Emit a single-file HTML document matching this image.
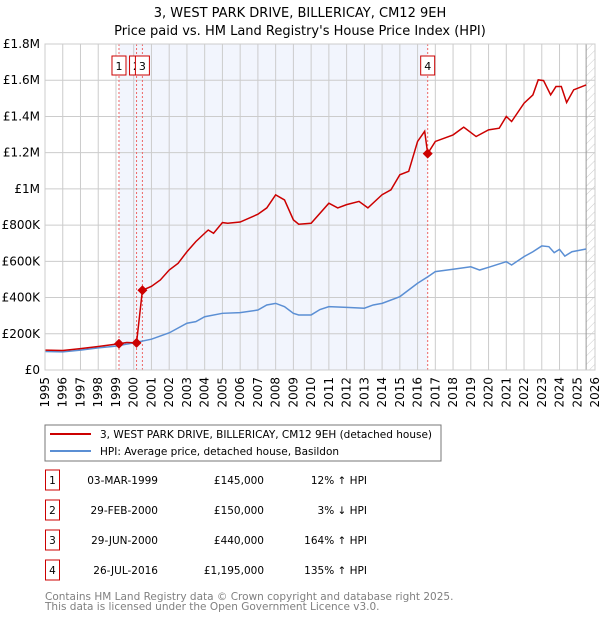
<!DOCTYPE html>
<html><head><meta charset="utf-8"><style>
body{margin:0;background:#fff;font-family:"Liberation Sans","DejaVu Sans",sans-serif;}
svg text{font-family:"DejaVu Sans","Liberation Sans",sans-serif;}
</style></head><body>
<svg id="c" width="600" height="620" xmlns="http://www.w3.org/2000/svg">
<defs><pattern id="hatch" width="6" height="6" patternUnits="userSpaceOnUse" patternTransform="rotate(45)"><line x1="0" y1="0" x2="0" y2="6" stroke="#ccc" stroke-width="1"/></pattern></defs>
<text x="300" y="17" text-anchor="middle" font-size="13">3, WEST PARK DRIVE, BILLERICAY, CM12 9EH</text>
<text x="300" y="35" text-anchor="middle" font-size="13">Price paid vs. HM Land Registry's House Price Index (HPI)</text>
<g id="plot"></g>
<rect x="45" y="425" width="396" height="36" fill="#fff" stroke="#777"/>
<line x1="50" y1="434" x2="91" y2="434" stroke="#cc0000" stroke-width="2"/>
<text x="100" y="438" font-size="10.5">3, WEST PARK DRIVE, BILLERICAY, CM12 9EH (detached house)</text>
<line x1="50" y1="451" x2="91" y2="451" stroke="#5b8fd4" stroke-width="2"/>
<text x="100" y="455" font-size="10.5">HPI: Average price, detached house, Basildon</text>
<g id="table" font-size="10.5"></g>
<text x="45" y="600" font-size="10.5" fill="#808080">Contains HM Land Registry data © Crown copyright and database right 2025.</text>
<text x="45" y="610" font-size="10.5" fill="#808080">This data is licensed under the Open Government Licence v3.0.</text>
</svg>
<script>
const hpiYears=[1995,1996,1997,1998,1999,2000,2001,2002,2003,2003.5,2004,2005,2006,2007,2007.5,2008,2008.5,2009,2009.3,2010,2010.5,2011,2012,2013,2013.5,2014,2015,2016,2016.6,2017,2018,2019,2019.5,2020,2021,2021.3,2022,2022.5,2023,2023.4,2023.7,2024,2024.3,2024.7,2025.5];
const hpiValues=[102,100,110,122,132,150,170,205,258,267,294,313,317,331,359,368,350,313,304,304,334,350,346,341,359,368,405,479,516,543,556,570,552,567,598,580,626,653,685,681,648,666,629,653,668];
const redYears=[1995,1996,1997,1998,1999.17,1999.6,2000.16,2000.49,2001,2001.5,2002,2002.5,2003,2003.5,2004,2004.2,2004.5,2005,2005.3,2006,2007,2007.5,2008,2008.5,2009,2009.3,2010,2011,2011.5,2012,2012.7,2013.2,2014,2014.5,2015,2015.5,2016,2016.4,2016.57,2017,2018,2018.6,2019.3,2020,2020.6,2021,2021.3,2022,2022.5,2022.8,2023.1,2023.5,2023.8,2024.1,2024.4,2024.8,2025.5];
const redValues=[110,108,118,130,145,152,150,440,462,497,552,589,653,709,755,773,755,814,810,817,860,895,967,939,829,805,810,921,895,913,931,895,968,995,1078,1097,1262,1318,1195,1262,1298,1341,1289,1326,1335,1400,1372,1473,1519,1602,1598,1519,1565,1565,1477,1547,1574];
const saleLabels=["1","2","3","4"];
const saleYears=[1999.17,2000.16,2000.49,2016.57];
const saleValues=[145,150,440,1195];
const saleDates=["03-MAR-1999","29-FEB-2000","29-JUN-2000","26-JUL-2016"];
const salePrices=["£145,000","£150,000","£440,000","£1,195,000"];
const saleHpi=["12% ↑ HPI","3% ↓ HPI","164% ↑ HPI","135% ↑ HPI"];
const yTicks=[0,200,400,600,800,1000,1200,1400,1600,1800];
const yTickLabels=["£0","£200K","£400K","£600K","£800K","£1M","£1.2M","£1.4M","£1.6M","£1.8M"];
const xTicks=[1995,1996,1997,1998,1999,2000,2001,2002,2003,2004,2005,2006,2007,2008,2009,2010,2011,2012,2013,2014,2015,2016,2017,2018,2019,2020,2021,2022,2023,2024,2025,2026];
const hatchStart=2025.5;
const L=45,R=595,T=44,B=370;
const X=y=>L+(y-1995)/(2026-1995)*(R-L);
const Y=v=>B-v/1800*(B-T);
const NS="http://www.w3.org/2000/svg";
const g=document.getElementById('plot');
function mk(tag,attrs,parent){const e=document.createElementNS(NS,tag);for(const k in attrs)e.setAttribute(k,attrs[k]);(parent||g).appendChild(e);return e;}
let e;
e=mk('rect',{x:L,y:T,width:R-L,height:B-T,fill:'#fff'});


e=mk('rect',{x:X(saleYears[0]),y:T,width:X(saleYears[3])-X(saleYears[0]),height:B-T,fill:'#f2f5fd'});


e=mk('rect',{x:X(hatchStart),y:T,width:R-X(hatchStart),height:B-T,fill:'url(#hatch)'});


xTicks.forEach(t=>{
 e=mk('line',{x1:X(t),x2:X(t),y1:T,y2:B,stroke:'#ccc','stroke-width':1});
 
 
 e=mk('text',{x:0,y:0,'font-size':12,'text-anchor':'end',transform:`translate(${X(t)+4},${B+7}) rotate(-90)`});
 e.textContent=t;
 
 
});
yTicks.forEach((t,i)=>{
 e=mk('line',{x1:L,x2:R,y1:Y(t),y2:Y(t),stroke:'#ccc','stroke-width':1});
 
 
 e=mk('text',{x:40,y:Y(t)+4,'font-size':12,'text-anchor':'end'});
 e.textContent=yTickLabels[i];
 
 
});
e=mk('line',{x1:X(hatchStart),x2:X(hatchStart),y1:T,y2:B,stroke:'#999'});


saleYears.forEach((s,i)=>{
 e=mk('line',{x1:X(s),x2:X(s),y1:T,y2:B,stroke:'#e66','stroke-width':1,'stroke-dasharray':'2,2'});
 
 
});
e=mk('polyline',{points:hpiYears.map((y,i)=>X(y)+','+Y(hpiValues[i])).join(' '),fill:'none',stroke:'#5b8fd4','stroke-width':1.5});


e=mk('polyline',{points:redYears.map((y,i)=>X(y)+','+Y(redValues[i])).join(' '),fill:'none',stroke:'#cc0000','stroke-width':1.5});


saleYears.forEach((s,i)=>{
 const cx=X(s),cy=Y(saleValues[i]);
 e=mk('polygon',{points:`${cx},${cy-5} ${cx+5},${cy} ${cx},${cy+5} ${cx-5},${cy}`,fill:'#cc0000'});
 
 
 const bx=cx-7;
 e=mk('rect',{x:bx,y:56,width:14,height:19,fill:'#fff',stroke:'#cc0000'});
 
 
 e=mk('text',{x:cx,y:70,'font-size':11,'text-anchor':'middle'});
 e.textContent=saleLabels[i];
 
 
});
e=mk('rect',{x:L,y:T,width:R-L,height:B-T,fill:'none',stroke:'#ccc'});


const tb=document.getElementById('table');
const rowsY=[483,513,543,573];
saleLabels.forEach((l,i)=>{
 const y=rowsY[i];
 e=mk('rect',{x:45.5,y:y-13,width:14,height:20,fill:'#fff',stroke:'#cc0000'},tb);
 
 
 e=mk('text',{x:52.5,y:y+1,'text-anchor':'middle'},tb);e.textContent=l;
 
 
 e=mk('text',{x:158,y:y+1,'text-anchor':'end'},tb);e.textContent=saleDates[i];
 
 
 e=mk('text',{x:264,y:y+1,'text-anchor':'end'},tb);e.textContent=salePrices[i];
 
 
 e=mk('text',{x:367,y:y+1,'text-anchor':'end'},tb);e.textContent=saleHpi[i];
 
 
});
</script>
</body></html>
